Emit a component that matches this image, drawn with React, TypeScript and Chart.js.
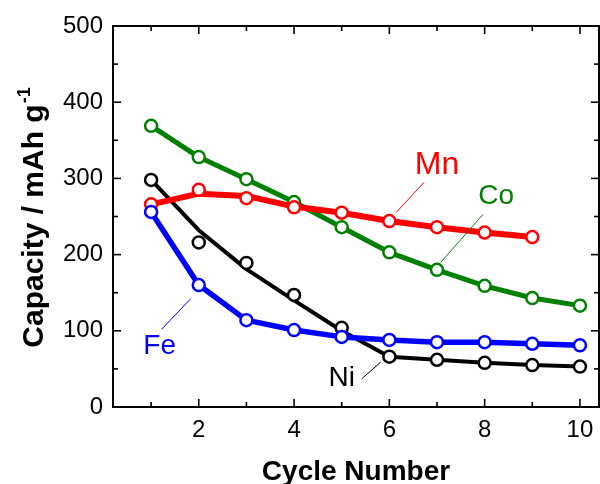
import { useEffect, useRef } from 'react';
import { Chart, registerables } from 'chart.js';

Chart.register(...registerables);

// ---- data ----
const cycles = [1, 2, 3, 4, 5, 6, 7, 8, 9, 10];
const mnCycles = [1, 2, 3, 4, 5, 6, 7, 8, 9];
const coCapacity = [369, 328, 299, 269, 236, 203, 180, 159, 143, 133];
const mnCapacity = [266, 285, 274, 262, 255, 244, 236, 229, 223];
const niCapacity = [298, 216, 189, 147, 104, 66, 62, 58, 55, 53];
const feCapacity = [256, 160, 114, 101, 92, 88, 85, 85, 83, 81];
// fitted guide lines drawn under the markers
const mnFitLine = [266, 280, 277, 263, 255, 244, 236, 229, 223];
const niFitLine = [298, 232, 181, 140, 100, 66, 62, 58, 55, 53];

const xMajorTicks = [2, 4, 6, 8, 10];
const xMinorTicks = [1, 3, 5, 7, 9];
const yMajorTicks = [0, 100, 200, 300, 400, 500];
const yMinorTicks = [50, 150, 250, 350, 450];

const FONT = '"Liberation Sans", Arial, sans-serif';

const annotations = [
  { text: 'Mn', color: '#FF0000', x: 7.0, y: 318, size: 32, from: [6.14, 255], to: [6.73, 295] },
  { text: 'Co', color: '#008000', x: 8.24, y: 277, size: 28, from: [7.08, 190], to: [7.97, 253] },
  { text: 'Fe', color: '#0000FF', x: 1.18, y: 80, size: 28, from: [1.22, 102], to: [1.83, 142] },
  { text: 'Ni', color: '#000000', x: 5.0, y: 38, size: 28, from: [5.42, 37], to: [5.82, 59] },
];

const pts = (xs: number[], ys: number[]) => xs.map((x, i) => ({ x, y: ys[i] }));

const framePlugin = {
  id: 'frame',
  beforeDatasetsDraw(chart: any) {
    const { ctx, chartArea: a, scales } = chart;
    const xs = scales.x, ys = scales.y;
    ctx.save();
    ctx.strokeStyle = '#000';
    ctx.lineWidth = 2;
    ctx.strokeRect(a.left, a.top, a.right - a.left, a.bottom - a.top);
    ctx.lineWidth = 1.6;
    const tick = (x1: number, y1: number, x2: number, y2: number) => {
      ctx.beginPath();
      ctx.moveTo(x1, y1);
      ctx.lineTo(x2, y2);
      ctx.stroke();
    };
    const maj = 8, min = 5;
    xMajorTicks.forEach((v) => {
      const p = xs.getPixelForValue(v);
      tick(p, a.bottom, p, a.bottom - maj);
      tick(p, a.top, p, a.top + maj);
    });
    xMinorTicks.forEach((v) => {
      const p = xs.getPixelForValue(v);
      tick(p, a.bottom, p, a.bottom - min);
      tick(p, a.top, p, a.top + min);
    });
    yMajorTicks.forEach((v) => {
      const p = ys.getPixelForValue(v);
      tick(a.left, p, a.left + maj, p);
      tick(a.right, p, a.right - maj, p);
    });
    yMinorTicks.forEach((v) => {
      const p = ys.getPixelForValue(v);
      tick(a.left, p, a.left + min, p);
      tick(a.right, p, a.right - min, p);
    });
    ctx.restore();
  },
  afterDatasetsDraw(chart: any) {
    const { ctx, chartArea: a, scales } = chart;
    const xs = scales.x, ys = scales.y;
    ctx.save();
    annotations.forEach((an) => {
      ctx.strokeStyle = an.color;
      ctx.lineWidth = 1;
      ctx.beginPath();
      ctx.moveTo(xs.getPixelForValue(an.from[0]), ys.getPixelForValue(an.from[1]));
      ctx.lineTo(xs.getPixelForValue(an.to[0]), ys.getPixelForValue(an.to[1]));
      ctx.stroke();
      ctx.fillStyle = an.color;
      ctx.font = `${an.size}px ${FONT}`;
      ctx.textAlign = 'center';
      ctx.textBaseline = 'middle';
      ctx.fillText(an.text, xs.getPixelForValue(an.x), ys.getPixelForValue(an.y));
    });
    // x title
    ctx.fillStyle = '#000';
    ctx.font = `bold 28px ${FONT}`;
    ctx.textAlign = 'center';
    ctx.textBaseline = 'alphabetic';
    ctx.fillText('Cycle Number', (a.left + a.right) / 2, 480);
    // y title with superscript
    ctx.translate(43, (a.top + a.bottom) / 2 + 1);
    ctx.rotate(-Math.PI / 2);
    ctx.font = `bold 30px ${FONT}`;
    const main = 'Capacity / mAh g';
    const w = ctx.measureText(main).width;
    ctx.font = `bold 18px ${FONT}`;
    const sup = '-1';
    const ws = ctx.measureText(sup).width;
    const start = -(w + ws + 1) / 2;
    ctx.textAlign = 'left';
    ctx.font = `bold 30px ${FONT}`;
    ctx.fillText(main, start, 0);
    ctx.font = `bold 18px ${FONT}`;
    ctx.fillText(sup, start + w + 1, -13);
    ctx.restore();
  },
};

export default function App() {
  const ref = useRef<HTMLCanvasElement | null>(null);
  useEffect(() => {
    document.body.style.margin = '0';
    const canvas = ref.current!;
    const line = (label: string, data: any[], color: string, width: number, order: number) => ({
      label,
      data,
      showLine: true,
      borderColor: color,
      backgroundColor: color,
      borderWidth: width,
      pointRadius: 0,
      pointHoverRadius: 0,
      fill: false,
      tension: 0,
      order,
      borderJoinStyle: 'round' as const,
      borderCapStyle: 'round' as const,
    });
    const marks = (label: string, data: any[], color: string, order: number) => ({
      label,
      data,
      showLine: false,
      borderColor: color,
      backgroundColor: '#fff',
      pointRadius: 6,
      pointBorderWidth: 2.5,
      pointBackgroundColor: '#fff',
      pointBorderColor: color,
      order,
    });
    const chart = new Chart(canvas, {
      type: 'scatter',
      data: {
        datasets: [
          line('Fe line', pts(cycles, feCapacity), '#0000FF', 5.5, 2),
          marks('Fe', pts(cycles, feCapacity), '#0000FF', 1),
          line('Mn line', pts(mnCycles, mnFitLine), '#FF0000', 6, 4),
          marks('Mn', pts(mnCycles, mnCapacity), '#FF0000', 3),
          line('Co line', pts(cycles, coCapacity), '#008000', 5, 6),
          marks('Co', pts(cycles, coCapacity), '#008000', 5),
          line('Ni line', pts(cycles, niFitLine), '#000000', 4, 8),
          marks('Ni', pts(cycles, niCapacity), '#000000', 7),
        ] as any,
      },
      options: {
        animation: false,
        responsive: false,
        maintainAspectRatio: false,
        layout: { autoPadding: false, padding: { top: 26, right: 1, left: 0, bottom: 0 } },
        plugins: { legend: { display: false }, tooltip: { enabled: false } },
        scales: {
          x: {
            type: 'linear',
            min: 0.2,
            max: 10.4,
            grid: { display: false, drawTicks: false },
            border: { display: false },
            afterBuildTicks: (s: any) => {
              s.ticks = xMajorTicks.map((v) => ({ value: v }));
            },
            afterFit: (s: any) => {
              s.height = 77;
              s.paddingLeft = 0;
              s.paddingRight = 0;
            },
            ticks: {
              padding: 9,
              color: '#000',
              font: { family: FONT, size: 24 },
              maxRotation: 0,
              callback: (v: any) => String(v),
            },
          },
          y: {
            type: 'linear',
            min: 0,
            max: 500,
            grid: { display: false, drawTicks: false },
            border: { display: false },
            afterBuildTicks: (s: any) => {
              s.ticks = yMajorTicks.map((v) => ({ value: v }));
            },
            afterFit: (s: any) => {
              s.width = 113;
              s.paddingTop = 0;
              s.paddingBottom = 0;
            },
            ticks: {
              padding: 10,
              color: '#000',
              font: { family: FONT, size: 24 },
              callback: (v: any) => String(v),
            },
          },
        },
      },
      plugins: [framePlugin],
    });
    return () => chart.destroy();
  }, []);
  return (
    <div style={{ width: 600, height: 484, background: '#fff' }}>
      <canvas ref={ref} width={600} height={484} style={{ display: 'block' }} />
    </div>
  );
}
